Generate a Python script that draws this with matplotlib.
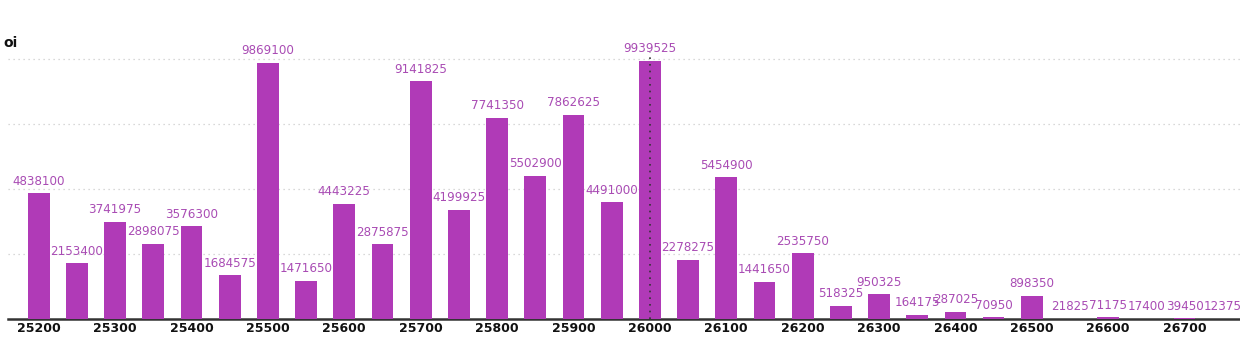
import numpy as np
import matplotlib.pyplot as plt

# Strike prices and open interest
strikes = [25200, 25250, 25300, 25350, 25400, 25450, 25500, 25550,
           25600, 25650, 25700, 25750, 25800, 25850, 25900, 25950,
           26000, 26050, 26100, 26150, 26200, 26250, 26300, 26350,
           26400, 26450, 26500, 26550, 26600, 26650, 26700, 26750]
oi = [4838100, 2153400, 3741975, 2898075, 3576300, 1684575, 9869100, 1471650,
      4443225, 2875875, 9141825, 4199925, 7741350, 5502900, 7862625, 4491000,
      9939525, 2278275, 5454900, 1441650, 2535750, 518325, 950325, 164175,
      287025, 70950, 898350, 21825, 71175, 17400, 39450, 12375]
spot_strike = 26000

bar_color = "#b03ab7"
label_color = "#a94cb4"

fig = plt.figure(figsize=(12.4, 3.42), dpi=100)
ax = fig.add_axes([0.0065, 0.067, 0.9935, 0.798])

x = np.arange(len(strikes))
ax.bar(x, oi, width=0.57, color=bar_color, zorder=3)

for xi, v in zip(x, oi):
    ax.annotate(str(v), (xi, v), xytext=(0, 4), textcoords="offset points",
                ha="center", va="bottom", fontsize=8.6, color=label_color,
                zorder=5)

# Dotted line at spot strike
si = strikes.index(spot_strike)
ax.axvline(si, ymin=0, ymax=0.98, color="#333333", linestyle=(0, (1, 3)),
           linewidth=1.2, zorder=4)

ax.set_xlim(-0.8, 31.45)
ax.set_ylim(0, 10500000)
ax.set_yticks([2500000, 5000000, 7500000, 10000000])
ax.yaxis.grid(True, linestyle=(0, (1, 3)), color="#cccccc", linewidth=0.9, zorder=0)
ax.tick_params(axis="y", left=False, labelleft=False)

ax.set_xticks(x[::2])
ax.set_xticklabels([str(s) for s in strikes[::2]], fontsize=9, fontweight="bold",
                   color="#111111")
ax.tick_params(axis="x", length=0, pad=2)

for side in ["top", "right", "left"]:
    ax.spines[side].set_visible(False)
ax.spines["bottom"].set_color("#333333")
ax.spines["bottom"].set_linewidth(1.8)

fig.text(0.003, 1 - 43 / 342, "oi", fontsize=10, fontweight="bold",
         ha="left", va="center", color="#111111")

fig.savefig("out.png", dpi=100)
